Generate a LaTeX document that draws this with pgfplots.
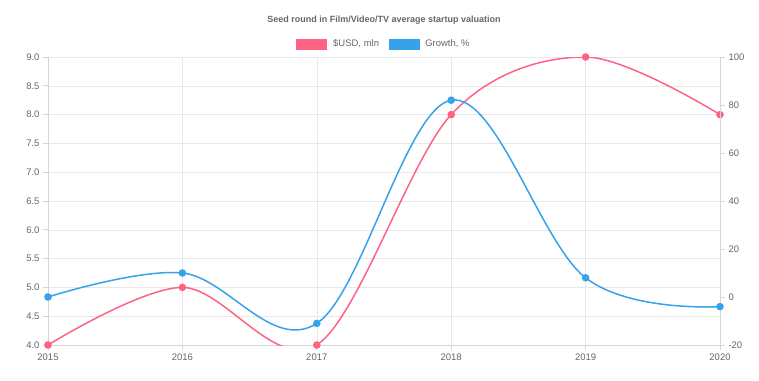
\documentclass[border=0pt]{standalone}
\usepackage{pgfplots}
\pgfplotsset{compat=1.18}
\usepackage{fontspec}
\setmainfont{Liberation Sans}
\definecolor{cred}{HTML}{FF6384}
\definecolor{cblue}{HTML}{36A2EB}
\definecolor{gridc}{HTML}{E8E8E8}
\definecolor{axc}{HTML}{D6D6D6}
\definecolor{txt}{HTML}{666666}
\begin{document}
\begin{tikzpicture}[x=1pt,y=1pt]
\useasboundingbox (0,0) rectangle (759,380);
\pgfplotsset{
  base/.style={
    width=672pt,height=288pt,scale only axis,
    at={(48pt,35pt)},anchor=south west,
    xmin=2015,xmax=2020,
    /pgf/number format/assume math mode=true,
    ticklabel style={font=\fontsize{9.5}{11}\selectfont, text=txt},
    axis line style={axc, line width=0.7pt},
    tick style={axc, line width=0.7pt},
    tick align=outside, major tick length=5pt,
  }
}
\begin{axis}[base,
  ymin=4,ymax=9,
  xtick={2015,2016,2017,2018,2019,2020},
  xticklabel style={/pgf/number format/1000 sep=},
  ytick={4,4.5,5,5.5,6,6.5,7,7.5,8,8.5,9},
  yticklabel style={/pgf/number format/.cd,fixed,fixed zerofill,precision=1},
  axis y line*=left, axis x line*=bottom,
  grid=major, major grid style={gridc, line width=0.6pt},
  legend style={at={(0.5,1)}, anchor=center, yshift=13pt, draw=none, fill=none,
    font=\fontsize{9.5}{11}\selectfont, text=txt,
    /tikz/every even column/.append style={column sep=8pt}},
  legend columns=2,
  legend image code/.code={\fill[#1,draw=none] (0pt,-5.5pt) rectangle (31pt,5.5pt); \path (34pt,0pt);},
]
\addplot[color=cred, line width=1.5pt, smooth, tension=0.55, mark=*, mark size=3pt] coordinates {
  (2015,4.0) (2016,5.0) (2017,4.0) (2018,8.0) (2019,9.0) (2020,8.0)};
\addlegendentry{\$USD, mln}
\addlegendimage{color=cblue}
\addlegendentry{Growth, \%}
\end{axis}
\begin{axis}[base,
  ymin=-20,ymax=100,
  ytick={-20,0,20,40,60,80,100},
  axis y line*=right, axis x line=none,
]
\addplot[color=cblue, line width=1.5pt, smooth, tension=0.6, mark=*, mark size=3pt] coordinates {
  (2015,0) (2016,10) (2017,-11) (2018,82) (2019,8) (2020,-4)};
\end{axis}
\node[font=\bfseries\fontsize{9}{11}\selectfont, text=txt] at (384,360) {Seed round in Film/Video/TV average startup valuation};
\end{tikzpicture}
\end{document}
